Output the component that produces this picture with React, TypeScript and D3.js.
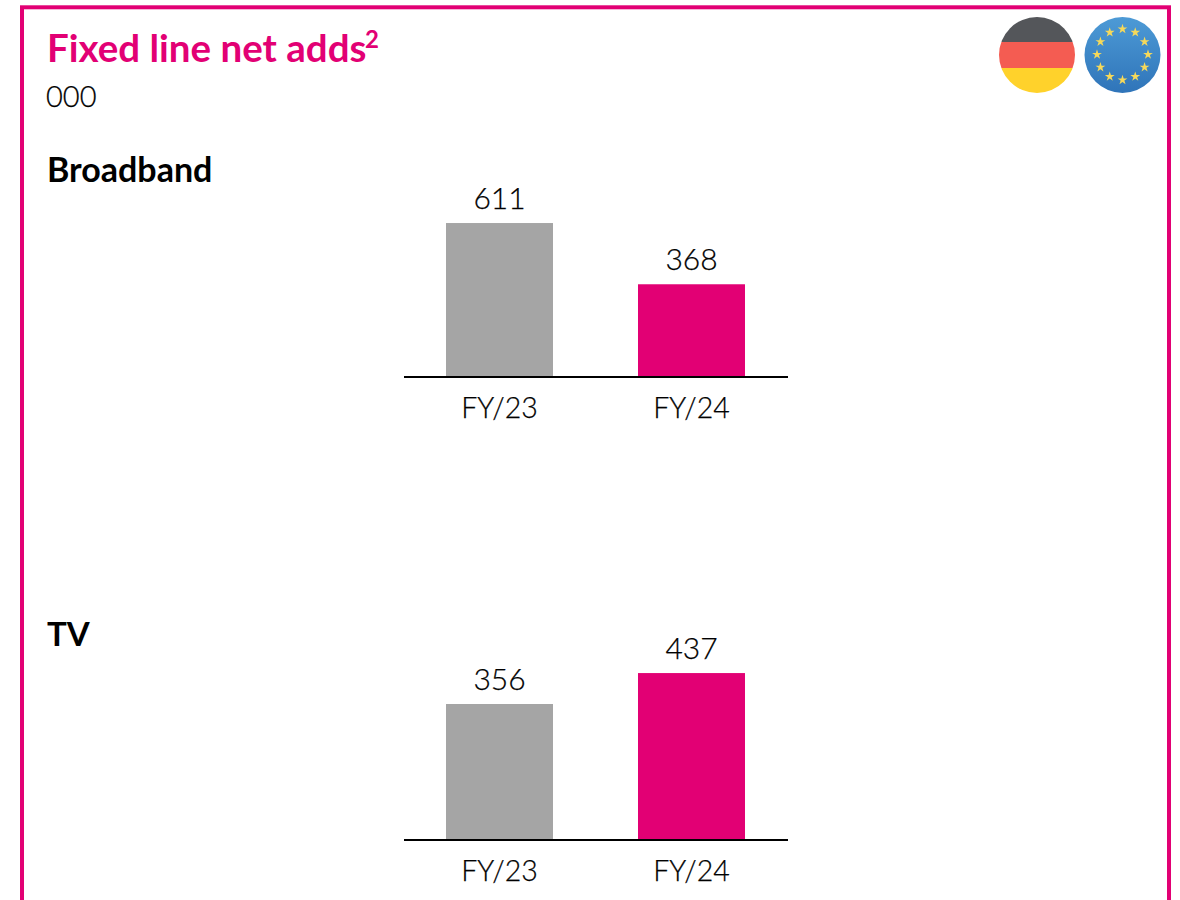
import React from "react";
import * as d3 from "d3";

const categories = ["FY/23", "FY/24"];
const broadbandValues = [611, 368];
const tvValues = [356, 437];
const barColors = ["#a5a5a5", "#e20074"];
const magenta = "#e20074";
const FONT = "Lato, 'Noto Sans', sans-serif";
const starCount = 12;

function Panel({ values, base, pxPerUnit }: { values: number[]; base: number; pxPerUnit: number }) {
  const x = d3.scaleBand<string>().domain(categories).range([403.5, 787.5]).paddingInner(0.4427).paddingOuter(0.2214);
  const maxV = d3.max(values) as number;
  const y = d3.scaleLinear().domain([0, maxV]).range([base, base - maxV * pxPerUnit]);
  return (
    <g>
      {values.map((v, i) => (
        <g key={categories[i]}>
          <rect x={x(categories[i])} y={y(v)} width={x.bandwidth()} height={base - y(v)} fill={barColors[i]} />
          <text x={(x(categories[i]) as number) + x.bandwidth() / 2} y={y(v) - 14} textAnchor="middle" fontSize={30} fontWeight={300} fill="#000" stroke="#000" strokeWidth={0.25} fontFamily={FONT}>{v}</text>
          <text x={(x(categories[i]) as number) + x.bandwidth() / 2} y={base + 41} textAnchor="middle" fontSize={28.5} fontWeight={300} fill="#000" stroke="#000" strokeWidth={0.25} fontFamily={FONT}>{categories[i]}</text>
        </g>
      ))}
      <line x1={404} x2={788} y1={base} y2={base} stroke="#000" strokeWidth={2} />
    </g>
  );
}

export default function App() {
  const star = d3.symbol().type(d3.symbolStar).size(30)() as string;
  const stars = d3.range(starCount).map((i) => {
    const a = (i / starCount) * 2 * Math.PI;
    return { x: 1122.5 + 25.5 * Math.sin(a), y: 54.5 - 25.5 * Math.cos(a) };
  });
  return (
    <svg width={1180} height={900} style={{ position: "absolute", left: 0, top: 0 }}>
      <defs>
        <linearGradient id="eu" x1="0" y1="0" x2="0" y2="1">
          <stop offset="0" stopColor="#4d9ad6" />
          <stop offset="1" stopColor="#2f74b9" />
        </linearGradient>
        <clipPath id="de"><circle cx={1037} cy={55} r={38} /></clipPath>
      </defs>
      <rect width={1180} height={900} fill="#fff" />
      <rect x={22} y={7.3} width={1147} height={1000} fill="none" stroke={magenta} strokeWidth={4} />

      <text x={47} y={62} fontSize={38.5} fontWeight={700} fill={magenta} fontFamily={FONT}>
        Fixed line net adds<tspan dx={-1.5} dy={-14} fontSize={24} fontWeight={700}>2</tspan>
      </text>
      <text x={46} y={107} fontSize={29} fontWeight={300} fill="#000" stroke="#000" strokeWidth={0.25} fontFamily={FONT}>000</text>
      <text x={47} y={182} fontSize={34} fontWeight={700} fill="#000" fontFamily={FONT}>Broadband</text>
      <text x={47} y={646} fontSize={33} fontWeight={700} fill="#000" fontFamily={FONT}>TV</text>

      <Panel values={broadbandValues} base={377} pxPerUnit={0.252} />
      <Panel values={tvValues} base={840} pxPerUnit={0.382} />

      <g clipPath="url(#de)">
        <rect x={999} y={17} width={76} height={25} fill="#54565a" />
        <rect x={999} y={42} width={76} height={26} fill="#f45c52" />
        <rect x={999} y={68} width={76} height={25} fill="#ffd22b" />
      </g>
      <circle cx={1122.5} cy={55} r={38} fill="url(#eu)" />
      {stars.map((s, i) => (
        <path key={i} d={star} transform={`translate(${s.x},${s.y})`} fill="#f6d95a" />
      ))}
    </svg>
  );
}
